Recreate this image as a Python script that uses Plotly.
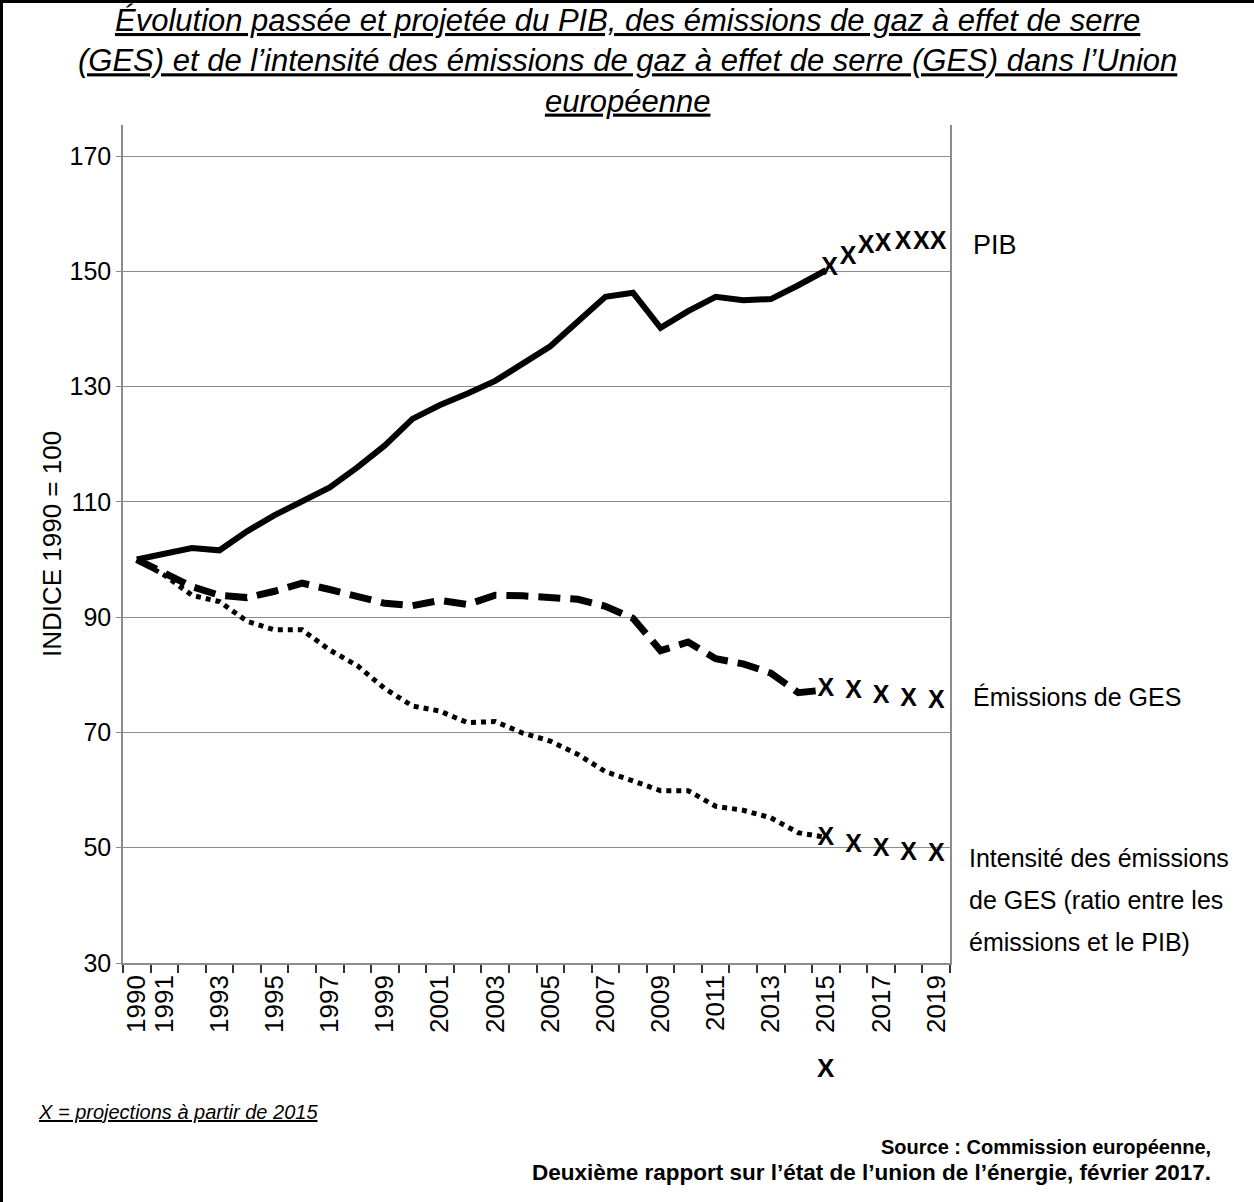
import plotly.graph_objects as go

# ---------------- data ----------------
years_hist = list(range(1990, 2016))
pib_hist = [100.0, 101.0, 102.0, 101.6, 104.9, 107.7, 110.2, 112.5, 116.0, 119.8,
            124.4, 126.8, 128.8, 131.0, 134.0, 137.0, 141.3, 145.6, 146.3, 140.2,
            143.1, 145.6, 145.0, 145.2, 147.6, 150.2]
emis_hist = [100.0, 97.8, 95.3, 93.8, 93.4, 94.5, 95.9, 94.8, 93.6, 92.4,
             92.0, 92.9, 92.2, 93.8, 93.7, 93.3, 93.1, 91.9, 89.8, 84.2,
             85.7, 82.8, 81.9, 80.3, 76.9, 77.4]
inten_hist = [100.0, 97.3, 93.8, 92.7, 89.3, 87.8, 87.8, 84.3, 81.6, 77.6,
              74.6, 73.7, 71.7, 71.9, 69.9, 68.5, 66.2, 63.2, 61.6, 59.9,
              59.9, 57.2, 56.5, 55.2, 52.6, 51.8]

pib_proj_years = [2015.13, 2015.8, 2016.46, 2017.07, 2017.8, 2018.46, 2019.07]
pib_proj = [150.5, 152.4, 154.2, 154.6, 154.9, 154.9, 155.0]
proj_years = [2015, 2016, 2017, 2018, 2019]
emis_proj = [77.4, 77.1, 76.2, 75.6, 75.3]
inten_proj = [51.6, 50.4, 49.6, 49.0, 48.7]

tick_years = [1990, 1991] + list(range(1993, 2020, 2))
tick_labels = [str(y) for y in tick_years]
y_ticks = [30, 50, 70, 90, 110, 130, 150, 170]

# ---------------- layout helpers ----------------
W, H = 1254, 1202
PL, PR, PT, PB = 123, 950, 125, 963


def px_x(x):
    return (x - PL) / (PR - PL)


def px_y(y):
    return (PB - y) / (PB - PT)


NARROW = "Liberation Sans Narrow, Arial Narrow, Liberation Sans, Arial, sans-serif"
REG = "Liberation Sans, Arial, sans-serif"

fig = go.Figure()

fig.add_trace(go.Scatter(x=years_hist, y=pib_hist, mode="lines",
                         line=dict(color="black", width=6), showlegend=False))
fig.add_trace(go.Scatter(x=years_hist, y=emis_hist, mode="lines",
                         line=dict(color="black", width=7, dash="22px,10px"),
                         showlegend=False))
fig.add_trace(go.Scatter(x=years_hist, y=inten_hist, mode="lines",
                         line=dict(color="black", width=5, dash="5px,5px"),
                         showlegend=False))

xfont = dict(family=NARROW, size=25, color="black")
for xs, ys in [(pib_proj_years, pib_proj), (proj_years, emis_proj), (proj_years, inten_proj)]:
    fig.add_trace(go.Scatter(x=xs, y=ys, mode="text", text=["<b>X</b>"] * len(xs),
                             textposition="middle center", textfont=xfont,
                             showlegend=False, cliponaxis=False))

fig.update_layout(
    width=W, height=H,
    margin=dict(l=PL, r=W - PR, t=PT, b=H - PB, autoexpand=False),
    paper_bgcolor="white", plot_bgcolor="white",
    showlegend=False,
    xaxis=dict(
        range=[1989.5, 2019.5], tickmode="array", tickvals=tick_years,
        ticktext=tick_labels, tickangle=-90, ticks="", showgrid=False,
        tickfont=dict(family=REG, size=26, color="black"),
        showline=True, linecolor="#8c8c8c", linewidth=1.5, zeroline=False,
        automargin=False,
        minor=dict(tickmode="linear", tick0=1989.5, dtick=1, ticks="outside",
                   ticklen=8, tickwidth=2, tickcolor="#333", showgrid=False),
    ),
    yaxis=dict(
        range=[30, 175.4], tickmode="array", tickvals=y_ticks,
        tickfont=dict(family=REG, size=25, color="black"),
        showgrid=True, gridcolor="#8c8c8c", gridwidth=1,
        showline=True, linecolor="#8c8c8c", linewidth=1.5, mirror=True,
        ticks="outside", ticklen=5, tickcolor="#8c8c8c",
        zeroline=False, automargin=False,
        title=dict(text="INDICE 1990 = 100", font=dict(family=REG, size=26, color="black"),
                   standoff=0),
    ),
)

title_txt = ("<i><u>Évolution passée et projetée du PIB, des émissions de gaz à effet de serre</u></i><br>"
             "<i><u>(GES) et de l’intensité des émissions de gaz à effet de serre (GES) dans l’Union</u></i><br>"
             "<i><u>européenne</u></i>")
lab_font = dict(family=NARROW, size=25, color="black")
ann = [
    dict(text=title_txt, x=px_x(627), y=px_y(1), xref="paper", yref="paper",
         xanchor="center", yanchor="top", showarrow=False,
         font=dict(family=NARROW, size=31, color="black")),
    dict(text="PIB", x=px_x(971), y=px_y(245), xref="paper", yref="paper",
         xanchor="left", yanchor="middle", showarrow=False, align="left",
         font=dict(family=NARROW, size=27, color="black")),
    dict(text="Émissions de GES", x=px_x(971), y=px_y(697), xref="paper", yref="paper",
         xanchor="left", yanchor="middle", showarrow=False, align="left",
         font=lab_font),
    dict(text="Intensité des émissions", x=px_x(967), y=px_y(858), xref="paper", yref="paper",
         xanchor="left", yanchor="middle", showarrow=False, align="left", font=lab_font),
    dict(text="de GES (ratio entre les", x=px_x(967), y=px_y(900), xref="paper", yref="paper",
         xanchor="left", yanchor="middle", showarrow=False, align="left", font=lab_font),
    dict(text="émissions et le PIB)", x=px_x(967), y=px_y(942), xref="paper", yref="paper",
         xanchor="left", yanchor="middle", showarrow=False, align="left", font=lab_font),
    dict(text="<b>X</b>", x=2015, y=px_y(1068), xref="x", yref="paper",
         xanchor="center", yanchor="middle", showarrow=False,
         font=dict(family=NARROW, size=26, color="black")),
    dict(text="<i><u>X = projections à partir de 2015</u></i>", x=px_x(36), y=px_y(1112),
         xref="paper", yref="paper", xanchor="left", yanchor="middle", showarrow=False,
         font=dict(family=NARROW, size=20, color="black")),
    dict(text="<b>Source : Commission européenne,</b>",
         x=px_x(1213), y=px_y(1147), xref="paper", yref="paper", xanchor="right",
         yanchor="middle", showarrow=False, align="right",
         font=dict(family=NARROW, size=20, color="black")),
    dict(text="<b>Deuxième rapport sur l’état de l’union de l’énergie, février 2017.</b>",
         x=px_x(1213), y=px_y(1172), xref="paper", yref="paper", xanchor="right",
         yanchor="middle", showarrow=False, align="right",
         font=dict(family=NARROW, size=22.5, color="black")),
]
fig.update_layout(annotations=ann)

fig.add_shape(type="line", xref="paper", yref="paper", x0=px_x(0), x1=px_x(W),
              y0=px_y(1.5), y1=px_y(1.5), line=dict(color="black", width=3))
fig.add_shape(type="line", xref="paper", yref="paper", x0=px_x(1.5), x1=px_x(1.5),
              y0=px_y(0), y1=px_y(H), line=dict(color="black", width=3))

fig.write_html("out.html", config={"displayModeBar": False},
               post_script="document.body.style.margin='0';document.body.style.overflow='hidden';")
